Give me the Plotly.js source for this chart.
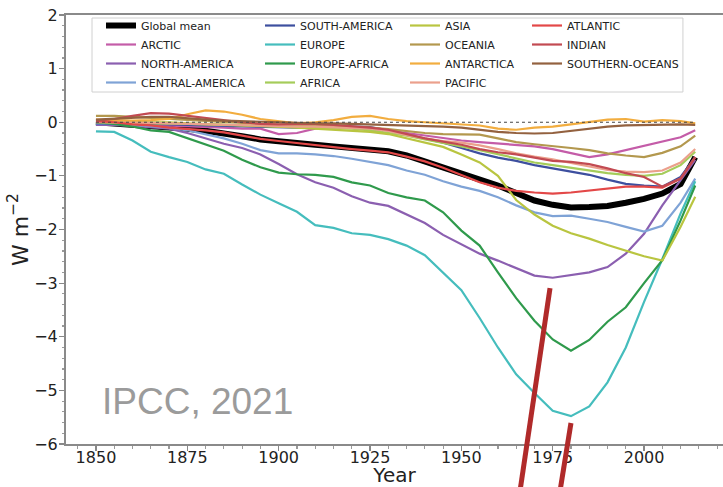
<!DOCTYPE html>
<html>
<head>
<meta charset="utf-8">
<script src="https://cdn.plot.ly/plotly-3.0.1.min.js"></script>
<style>html,body{margin:0;padding:0;background:#fff;}#chart{width:723px;height:487px;}</style>
</head>
<body>
<div id="chart"></div>
<script>
const years = [1850,1855,1860,1865,1870,1875,1880,1885,1890,1895,1900,1905,1910,1915,1920,1925,1930,1935,1940,1945,1950,1955,1960,1965,1970,1975,1980,1985,1990,1995,2000,2005,2010,2014];

const globalMean   = [0,-0.02,-0.05,-0.07,-0.1,-0.12,-0.16,-0.2,-0.26,-0.32,-0.36,-0.4,-0.42,-0.45,-0.48,-0.51,-0.54,-0.62,-0.73,-0.83,-0.95,-1.06,-1.18,-1.32,-1.46,-1.54,-1.59,-1.58,-1.56,-1.5,-1.43,-1.33,-1.15,-0.65];
const arctic       = [0,-0.03,-0.05,-0.05,-0.06,-0.07,-0.08,-0.1,-0.12,-0.12,-0.22,-0.2,-0.12,-0.1,-0.1,-0.12,-0.15,-0.2,-0.25,-0.3,-0.34,-0.37,-0.4,-0.42,-0.45,-0.5,-0.58,-0.65,-0.6,-0.52,-0.44,-0.36,-0.28,-0.15];
const northAmerica = [-0.05,-0.05,-0.07,-0.09,-0.12,-0.2,-0.3,-0.4,-0.48,-0.6,-0.78,-0.97,-1.12,-1.22,-1.38,-1.5,-1.56,-1.72,-1.88,-2.1,-2.28,-2.45,-2.58,-2.72,-2.86,-2.9,-2.85,-2.8,-2.7,-2.45,-2.08,-1.55,-1.08,-0.7];
const centralAmerica = [-0.03,-0.03,-0.05,-0.07,-0.1,-0.15,-0.22,-0.3,-0.4,-0.52,-0.58,-0.58,-0.6,-0.63,-0.68,-0.74,-0.8,-0.9,-0.98,-1.1,-1.2,-1.28,-1.4,-1.55,-1.68,-1.75,-1.74,-1.8,-1.86,-1.95,-2.04,-1.93,-1.5,-1.05];
const southAmerica = [-0.02,-0.02,-0.03,-0.03,-0.04,-0.05,-0.05,-0.06,-0.07,-0.08,-0.1,-0.1,-0.1,-0.09,-0.08,-0.09,-0.15,-0.23,-0.3,-0.38,-0.48,-0.58,-0.66,-0.72,-0.8,-0.86,-0.92,-0.98,-1.07,-1.15,-1.18,-1.2,-1.02,-0.65];
const europe       = [-0.17,-0.18,-0.34,-0.55,-0.65,-0.74,-0.88,-0.96,-1.16,-1.35,-1.51,-1.67,-1.92,-1.97,-2.07,-2.1,-2.18,-2.3,-2.48,-2.8,-3.13,-3.65,-4.2,-4.7,-5.05,-5.38,-5.48,-5.3,-4.85,-4.2,-3.35,-2.55,-1.7,-1.1];
const europeAfrica = [0,-0.03,-0.08,-0.15,-0.18,-0.3,-0.42,-0.53,-0.7,-0.84,-0.94,-0.97,-0.98,-1.02,-1.12,-1.18,-1.32,-1.4,-1.46,-1.68,-2.02,-2.3,-2.8,-3.28,-3.7,-4.05,-4.26,-4.06,-3.72,-3.45,-3.0,-2.57,-1.83,-1.18];
const africa       = [0,0,-0.01,-0.02,-0.02,-0.03,-0.04,-0.05,-0.05,-0.06,-0.08,-0.09,-0.1,-0.11,-0.12,-0.15,-0.2,-0.25,-0.32,-0.38,-0.45,-0.52,-0.6,-0.68,-0.75,-0.8,-0.85,-0.9,-0.95,-0.98,-1.0,-0.96,-0.8,-0.55];
const asia         = [0.02,0.02,0.01,0,0,-0.02,-0.03,-0.04,-0.05,-0.06,-0.08,-0.1,-0.12,-0.14,-0.16,-0.18,-0.22,-0.3,-0.38,-0.46,-0.6,-0.75,-1.0,-1.45,-1.72,-1.93,-2.07,-2.17,-2.29,-2.4,-2.5,-2.58,-1.95,-1.39];
const oceania      = [0.12,0.12,0.1,0.08,0.06,0.04,0.02,0,-0.02,-0.03,-0.05,-0.05,-0.06,-0.07,-0.08,-0.1,-0.13,-0.17,-0.2,-0.22,-0.22,-0.23,-0.3,-0.37,-0.41,-0.44,-0.48,-0.52,-0.58,-0.62,-0.65,-0.57,-0.45,-0.25];
const antarctica   = [0.05,0.04,0.03,0.04,0.06,0.15,0.22,0.2,0.14,0.06,0.02,-0.02,0,0.04,0.1,0.12,0.06,0.02,0,-0.02,-0.04,-0.06,-0.12,-0.14,-0.1,-0.08,-0.04,0,0.05,0.06,0.01,0.04,0.02,-0.02];
const pacific      = [0,0,0,-0.01,-0.02,-0.03,-0.04,-0.05,-0.06,-0.07,-0.08,-0.08,-0.08,-0.09,-0.1,-0.12,-0.16,-0.24,-0.3,-0.35,-0.38,-0.43,-0.5,-0.58,-0.64,-0.69,-0.76,-0.82,-0.89,-0.92,-0.93,-0.9,-0.75,-0.5];
const atlantic     = [0.02,0,-0.04,-0.06,-0.1,-0.12,-0.15,-0.19,-0.25,-0.31,-0.35,-0.39,-0.43,-0.46,-0.5,-0.53,-0.56,-0.64,-0.73,-0.85,-0.98,-1.12,-1.22,-1.28,-1.31,-1.33,-1.31,-1.27,-1.23,-1.2,-1.2,-1.22,-1.05,-0.65];
const indian       = [0.03,0.06,0.12,0.17,0.16,0.12,0.07,0.04,0,-0.03,-0.04,-0.03,-0.03,-0.05,-0.07,-0.1,-0.14,-0.22,-0.3,-0.36,-0.42,-0.5,-0.56,-0.6,-0.66,-0.72,-0.74,-0.78,-0.86,-0.95,-1.02,-1.2,-1.05,-0.65];
const southernOceans = [0.05,0.07,0.08,0.1,0.1,0.07,0.05,0.03,0.02,0,0,-0.01,-0.02,-0.02,-0.03,-0.04,-0.05,-0.06,-0.06,-0.08,-0.1,-0.14,-0.18,-0.2,-0.21,-0.2,-0.16,-0.12,-0.08,-0.06,-0.05,-0.05,-0.04,-0.05];

const seriesNames = ['Global mean','ARCTIC','NORTH-AMERICA','CENTRAL-AMERICA','SOUTH-AMERICA','EUROPE','EUROPE-AFRICA','AFRICA','ASIA','OCEANIA','ANTARCTICA','PACIFIC','ATLANTIC','INDIAN','SOUTHERN-OCEANS'];
const seriesValues = [globalMean, arctic, northAmerica, centralAmerica, southAmerica, europe, europeAfrica, africa, asia, oceania, antarctica, pacific, atlantic, indian, southernOceans];
const seriesColors = ['#000000','#c45ca8','#8b5fb0','#7fa3d6','#3d4f9f','#45bdbd','#2f9a4c','#a5cc5a','#b9c540','#b3984e','#f2ad3f','#eba08c','#e34848','#c24a52','#93613f'];
const legendColumn = ['legend','legend','legend','legend','legend2','legend2','legend2','legend2','legend3','legend3','legend3','legend3','legend4','legend4','legend4'];

const zeroRefYears = [1850, 2014];
const zeroRefValues = [0, 0];

const xTickStart = 1850, xTickStep = 25;

const traces = seriesNames.map((name, i) => ({
  type: 'scatter', mode: 'lines', name: name,
  x: years, y: seriesValues[i],
  line: {color: seriesColors[i], width: i === 0 ? 6 : 2.2},
  legend: legendColumn[i]
}));
traces.push({
  type: 'scatter', mode: 'lines', x: zeroRefYears, y: zeroRefValues,
  line: {color: '#444', width: 1.2, dash: 'dot'}, showlegend: false, hoverinfo: 'skip'
});

const legFont = {family: 'DejaVu Sans', size: 11, color: '#222'};
function leg(x) {
  return {x: x, y: 1.0093, xanchor: 'left', yanchor: 'top', bgcolor: 'rgba(0,0,0,0)', borderwidth: 0, font: legFont, tracegroupgap: 0, itemwidth: 30};
}

const layout = {
  width: 723, height: 487,
  margin: {l: 66, r: 0, t: 15, b: 43},
  paper_bgcolor: '#fff', plot_bgcolor: '#fff',
  font: {family: 'DejaVu Sans', color: '#222'},
  showlegend: true,
  legend: leg(0.0533),
  legend2: leg(0.2953),
  legend3: leg(0.516),
  legend4: leg(0.7017),
  xaxis: {
    range: [1841.8, 2021.6],
    tickmode: 'linear', tick0: xTickStart, dtick: xTickStep,
    ticks: 'outside', ticklen: 5, tickwidth: 1.2, tickcolor: '#888',
    ticklabelstandoff: -7,
    minor: {ticks: 'outside', ticklen: 3, tickcolor: '#999', tick0: 1850, dtick: 5},
    showline: true, linecolor: '#8a8a8a', linewidth: 2, mirror: true,
    showgrid: false, zeroline: false,
    tickfont: {family: 'DejaVu Sans', size: 16, color: '#222'},
    title: {text: 'Year', font: {family: 'DejaVu Sans', size: 20, color: '#222'}, standoff: 10}
  },
  yaxis: {
    range: [-6, 2],
    tickmode: 'linear', tick0: 0, dtick: 1,
    ticks: 'outside', ticklen: 5, tickwidth: 1.2, tickcolor: '#888',
    ticklabelstandoff: -2,
    minor: {ticks: 'outside', ticklen: 2.5, tickcolor: '#999', dtick: 0.2},
    showline: true, linecolor: '#8a8a8a', linewidth: 2, mirror: false,
    showgrid: false, zeroline: false,
    tickfont: {family: 'DejaVu Sans', size: 16, color: '#222'},
    title: {text: 'W m<sup>−2</sup>', font: {family: 'DejaVu Sans', size: 22, color: '#222'}, standoff: 0}
  },
  shapes: [
    {type: 'rect', xref: 'paper', yref: 'paper', x0: 0.0396, x1: 0.939, y0: 0.8205, y1: 0.993,
     line: {color: '#d0d0d0', width: 1}, fillcolor: 'rgba(255,255,255,0.8)', layer: 'below'},
    {type: 'line', xref: 'paper', yref: 'paper', x0: 0.7367, y0: 0.3636, x1: 0.6910, y1: -0.11,
     line: {color: '#b02a2a', width: 5}, layer: 'above'},
    {type: 'line', xref: 'paper', yref: 'paper', x0: 0.7686, y0: 0.049, x1: 0.7519, y1: -0.11,
     line: {color: '#b02a2a', width: 5}, layer: 'above'}
  ],
  annotations: [
    {text: 'IPCC, 2021', xref: 'paper', yref: 'paper', x: 0.2009, y: 0.1002, xanchor: 'center', yanchor: 'middle',
     showarrow: false, font: {family: 'Liberation Sans', size: 37, color: '#9b9b9b'}}
  ]
};

Plotly.newPlot('chart', traces, layout, {displayModeBar: false, staticPlot: true});
</script>
</body>
</html>
